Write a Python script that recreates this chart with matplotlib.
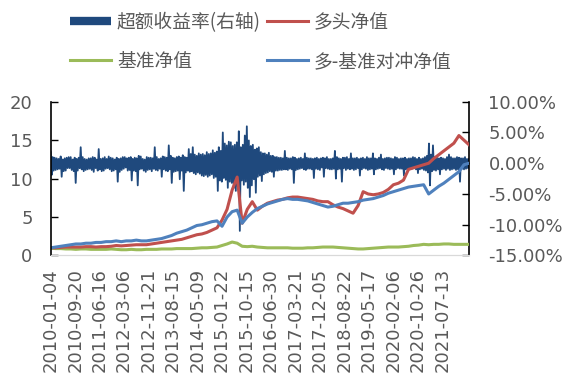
import numpy as np
import matplotlib
matplotlib.use("Agg")
import matplotlib.pyplot as plt
from matplotlib.lines import Line2D
import matplotlib.transforms as mtransforms

# ---------------- data ----------------
tick_labels = ["2010-01-04", "2010-09-20", "2011-06-16", "2012-03-06", "2012-11-21",
               "2013-08-15", "2014-05-09", "2015-01-22", "2015-10-15", "2016-06-30",
               "2017-03-21", "2017-12-05", "2018-08-22", "2019-05-17", "2020-02-06",
               "2020-10-26", "2021-07-13"]
n_days = 2990          # trading days covered by the x axis
label_step = 175       # trading days between two labels

long_nav = [1.0, 1.0, 1.05, 1.1, 1.1, 1.1, 1.1, 1.15, 1.15, 1.1,
            1.15, 1.15, 1.2, 1.3, 1.25, 1.3, 1.35, 1.4, 1.4, 1.4,
            1.5, 1.6, 1.7, 1.8, 1.9, 2.0, 2.1, 2.3, 2.5, 2.7,
            2.8, 3.0, 3.3, 3.6, 4.6, 6.0, 8.5, 10.2, 4.2, 6.0,
            7.0, 5.9, 6.4, 6.8, 7.0, 7.2, 7.3, 7.5, 7.6, 7.6,
            7.5, 7.4, 7.3, 7.1, 7.0, 7.0, 6.6, 6.3, 6.1, 5.8,
            5.5, 6.5, 8.3, 8.0, 7.9, 8.0, 8.2, 8.6, 9.2, 9.4,
            9.8, 11.2, 11.4, 11.6, 11.8, 12.0, 12.6, 13.1, 13.6, 14.1,
            14.6, 15.6, 15.0, 14.4]

hedge_nav = [1.0, 1.1, 1.2, 1.3, 1.4, 1.5, 1.5, 1.6, 1.6, 1.7,
             1.7, 1.8, 1.8, 1.9, 1.8, 1.9, 1.9, 2.0, 1.9, 1.9,
             2.0, 2.1, 2.2, 2.4, 2.6, 2.9, 3.1, 3.3, 3.6, 3.9,
             4.0, 4.2, 4.4, 4.5, 3.8, 5.0, 5.7, 5.9, 4.2, 5.0,
             5.6, 6.1, 6.4, 6.7, 6.9, 7.1, 7.3, 7.4, 7.3, 7.3,
             7.2, 7.1, 6.9, 6.7, 6.5, 6.3, 6.4, 6.6, 6.8, 6.8,
             6.9, 7.0, 7.2, 7.3, 7.4, 7.6, 7.8, 8.1, 8.3, 8.5,
             8.7, 8.9, 9.0, 9.1, 9.2, 8.0, 8.5, 9.0, 9.4, 9.9,
             10.4, 10.9, 11.8, 12.0]

bench_nav = [0.95, 0.9, 0.9, 0.85, 0.85, 0.8, 0.85, 0.85, 0.8, 0.8,
             0.8, 0.8, 0.85, 0.8, 0.75, 0.75, 0.8, 0.75, 0.75, 0.8,
             0.8, 0.8, 0.85, 0.85, 0.85, 0.9, 0.9, 0.9, 0.9, 0.95,
             1.0, 1.0, 1.05, 1.1, 1.3, 1.5, 1.75, 1.6, 1.2, 1.15,
             1.2, 1.1, 1.05, 1.0, 1.0, 1.0, 1.0, 1.0, 0.95, 0.95,
             0.95, 1.0, 1.0, 1.05, 1.1, 1.1, 1.1, 1.05, 1.0, 0.95,
             0.9, 0.85, 0.85, 0.9, 0.95, 1.0, 1.05, 1.1, 1.1, 1.1,
             1.15, 1.2, 1.3, 1.35, 1.45, 1.4, 1.45, 1.45, 1.5, 1.5,
             1.45, 1.45, 1.45, 1.45]

excess_ret = [
    1.8, -1.9, 1.0, -1.2, 0.9, -1.1, 0.8, -1.0, 0.7, -0.9, 1.1, -2.2, 0.6, -1.3, 0.8, -1.2, 0.9, -0.8, 1.0, -0.8,
    1.0, -1.1, 0.6, -1.3, 0.9, -3.2, 0.7, -1.2, 0.9, -0.8, 2.6, -1.0, 1.0, -1.3, 0.7, -1.1, 0.6, -1.0, 0.8, -0.9,
    0.8, -1.1, 1.0, -1.4, 0.9, -0.8, 0.6, -1.2, 2.3, -1.0, 0.7, -1.3, 0.8, -1.2, 1.0, -0.9, 0.7, -0.8, 1.1, -1.0,
    0.9, -1.3, 0.8, -1.2, 0.6, -1.0, 0.9, -3.0, 0.7, -1.4, 0.8, -1.1, 1.0, -0.9, 1.0, -0.7, 0.8, -1.2, 0.9, -1.1,
    1.0, -2.8, 0.7, -1.2, 0.9, -1.3, 0.8, -3.6, 1.2, -1.0, 1.1, -0.9, 0.7, -1.2, 0.6, -1.4, 1.0, -1.1, 0.9, -1.0,
    0.9, -1.3, 0.8, -0.9, 2.6, -1.1, 1.0, -1.2, 0.7, -0.9, 0.8, -2.2, 1.1, -1.0, 1.0, -1.2, 0.9, -1.3, 2.9, -1.0,
    1.2, -3.2, 0.9, -1.4, 0.8, -1.3, 1.0, -1.2, 1.1, -2.6, 0.9, -1.2, 1.3, -4.5, 1.0, -1.5, 0.9, -1.2, 2.3, -1.4,
    1.5, -1.3, 2.6, -1.6, 1.4, -1.8, 1.2, -1.5, 1.6, -1.7, 1.4, -2.0, 1.5, -2.1, 1.3, -1.9, 1.8, -2.2, 1.5, -2.0,
    1.6, -1.8, 2.1, -2.4, 1.7, -2.2, 1.9, -4.5, 2.6, -2.8, 2.0, -3.0, 5.0, -2.4, 3.2, -2.7, 2.9, -4.0, 3.5, -3.0,
    3.4, -3.2, 2.8, -4.0, 3.0, -4.5, 3.4, -3.8, 5.2, -11.0, 2.6, -2.8, 3.0, -3.5, 4.5, -3.0, 6.0, -4.0, 3.7, -5.5,
    2.8, -3.6, 3.0, -2.6, 2.2, -4.8, 2.4, -2.2, 2.6, -2.0, 1.8, -2.9, 1.6, -1.8, 1.6, -1.6, 1.4, -1.5, 1.7, -1.3,
    1.2, -1.4, 1.2, -2.2, 1.0, -1.2, 1.0, -1.2, 0.9, -1.1, 0.9, -1.1, 0.8, -1.0, 2.0, -1.0, 0.9, -1.1, 0.8, -0.9,
    0.8, -1.0, 1.0, -3.2, 0.9, -1.1, 0.7, -1.0, 0.8, -0.9, 0.9, -0.8, 0.7, -1.0, 1.6, -1.1, 0.9, -0.9, 0.8, -0.9,
    0.8, -1.0, 0.7, -2.4, 0.8, -0.9, 0.9, -1.0, 0.7, -1.1, 0.8, -0.7, 0.9, -2.2, 0.8, -0.8, 1.0, -0.9, 0.7, -1.0,
    0.7, -1.0, 0.8, -0.9, 2.0, -2.5, 1.0, -1.0, 0.8, -0.9, 0.7, -3.0, 0.9, -0.8, 0.9, -1.1, 1.0, -0.9, 0.7, -1.0,
    1.6, -0.9, 0.8, -1.1, 0.8, -1.0, 0.9, -0.8, 0.7, -2.0, 0.8, -1.0, 0.9, -0.8, 0.7, -0.9, 1.0, -1.1, 0.8, -1.0,
    0.8, -0.9, 1.6, -1.8, 0.8, -1.0, 0.7, -0.9, 0.9, -0.8, 1.4, -1.0, 0.7, -1.1, 0.8, -0.8, 0.9, -0.9, 0.9, -1.0,
    0.8, -0.9, 0.7, -1.8, 1.0, -1.0, 0.9, -0.8, 0.7, -0.9, 0.8, -0.9, 0.8, -2.0, 0.9, -1.0, 0.7, -1.0, 0.8, -0.9,
    0.8, -0.9, 1.0, -0.8, 0.9, -1.0, 0.7, -1.6, 0.9, -1.0, 0.7, -0.9, 0.8, -1.1, 1.0, -1.2, 1.2, -1.5, 3.2, -3.6,
    1.4, -1.3, 2.9, -1.1, 1.0, -1.2, 0.9, -1.0, 0.8, -1.8, 0.9, -1.0, 0.8, -0.9, 0.7, -1.1, 1.0, -0.9, 1.4, -1.1,
    1.0, -1.0, 0.8, -0.9, 0.8, -1.1, 1.0, -1.0, 0.9, -3.0, 0.8, -0.9, 0.8, -1.0, 1.0, -0.9, 0.7, -0.8, 0.7]

series_names = ["超额收益率(右轴)", "多头净值", "基准净值", "多-基准对冲净值"]

# ---------------- style ----------------
C_EXCESS = "#1F497D"
C_LONG = "#C0504D"
C_BENCH = "#9BBB59"
C_HEDGE = "#4F81BD"
TXT = "#595959"

plt.rcParams["font.family"] = ["DejaVu Sans"]

fig = plt.figure(figsize=(5.70, 3.87), dpi=100)
ax = fig.add_axes([0.0889, 0.3398, 0.7339, 0.3974])
ax2 = ax.twinx()
ax2.set_zorder(ax.get_zorder() - 1)
ax.patch.set_visible(False)

x_line = np.linspace(0, n_days, len(long_nav))
x_ex = np.linspace(0, n_days, len(excess_ret))

ax2.plot(x_ex, excess_ret, color=C_EXCESS, lw=1.3)
ax.plot(x_line, bench_nav, color=C_BENCH, lw=2.2)
ax.plot(x_line, long_nav, color=C_LONG, lw=2.2)
ax.plot(x_line, hedge_nav, color=C_HEDGE, lw=2.2)

ax.set_xlim(0, n_days)
ax.set_ylim(0, 20)
ax.set_yticks([0, 5, 10, 15, 20])
ax2.set_ylim(-15, 10)
ax2.set_yticks([-15, -10, -5, 0, 5, 10])
ax2.set_yticklabels([f"{v:.2f}%" for v in [-15, -10, -5, 0, 5, 10]])

ax.set_xticks(np.arange(len(tick_labels)) * label_step)
ax.set_xticklabels(tick_labels, rotation=90)
offset = mtransforms.ScaledTranslation(3 / 100, 0, fig.dpi_scale_trans)
for lab in ax.get_xticklabels():
    lab.set_transform(lab.get_transform() + offset)
ax2.tick_params(axis="x", length=0, labelbottom=False)

for a in (ax, ax2):
    a.spines["top"].set_visible(False)
    a.spines["bottom"].set_color("#D9D9D9")
    a.spines["left"].set_color("black")
    a.spines["right"].set_color("black")
    a.spines["left"].set_linewidth(1.2)
    a.spines["right"].set_linewidth(1.2)
ax.spines["right"].set_visible(False)
ax2.spines["left"].set_visible(False)

ax.tick_params(axis="y", direction="in", length=5, width=1.0, pad=13,
               labelsize=13, labelcolor=TXT)
ax2.tick_params(axis="y", direction="in", length=5, width=1.0, pad=14,
                labelsize=13, labelcolor=TXT)
ax.tick_params(axis="x", length=0, pad=9, labelsize=13, labelcolor=TXT)

handles = [Line2D([], [], color=C_EXCESS, lw=6, solid_capstyle="butt"),
           Line2D([], [], color=C_BENCH, lw=2.2),
           Line2D([], [], color=C_LONG, lw=2.2),
           Line2D([], [], color=C_HEDGE, lw=2.2)]
labels = [series_names[0], series_names[2], series_names[1], series_names[3]]
leg = fig.legend(handles, labels, loc="upper left",
                 bbox_to_anchor=(70 / 570, 1 - 12 / 387), ncol=2, frameon=False,
                 prop={"family": ["Noto Sans CJK SC", "DejaVu Sans"], "size": 13.5},
                 handlelength=2.2, handletextpad=0.3, columnspacing=0.3,
                 labelspacing=0.95, borderpad=0, borderaxespad=0)
for t in leg.get_texts():
    t.set_color(TXT)

fig.savefig("out.png", dpi=100)
